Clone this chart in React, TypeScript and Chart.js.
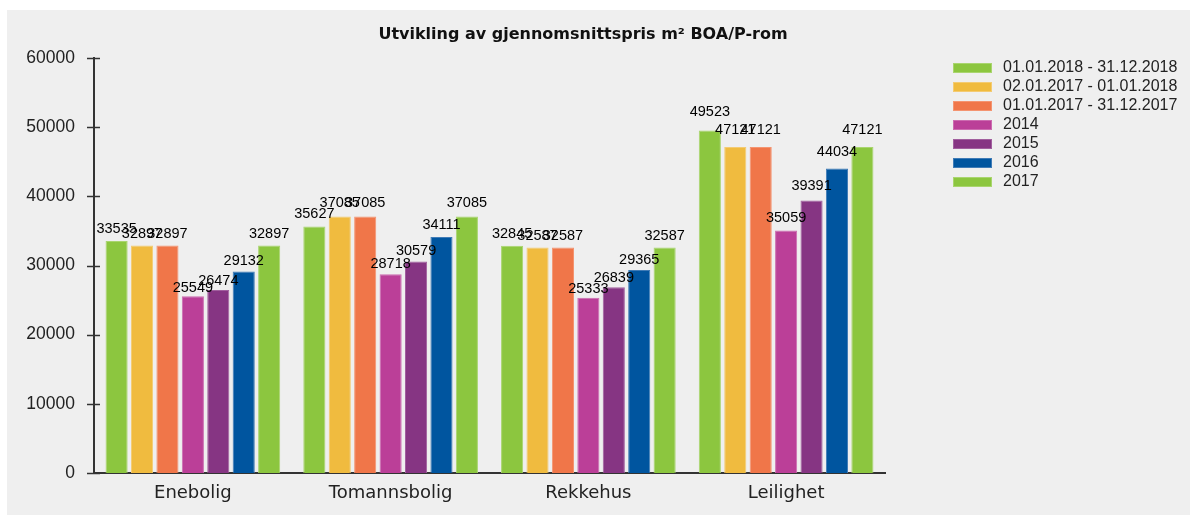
import React, { useEffect, useRef } from "react";
import { Chart, registerables } from "chart.js";

Chart.register(...registerables);

const titleText = "Utvikling av gjennomsnittspris m² BOA/P-rom";
const categories = ["Enebolig", "Tomannsbolig", "Rekkehus", "Leilighet"];
const seriesNames = [
  "01.01.2018 - 31.12.2018",
  "02.01.2017 - 01.01.2018",
  "01.01.2017 - 31.12.2017",
  "2014",
  "2015",
  "2016",
  "2017",
];
const s2018 = [33535, 35627, 32845, 49523];
const s2017to2018 = [32897, 37085, 32587, 47121];
const s2017full = [32897, 37085, 32587, 47121];
const s2014 = [25549, 28718, 25333, 35059];
const s2015 = [26474, 30579, 26839, 39391];
const s2016 = [29132, 34111, 29365, 44034];
const s2017 = [32897, 37085, 32587, 47121];
const seriesValues = [s2018, s2017to2018, s2017full, s2014, s2015, s2016, s2017];
const yTickValues = [0, 10000, 20000, 30000, 40000, 50000, 60000];

const seriesColors = ["#8cc63f", "#f0bb3f", "#f07649", "#bb3f98", "#863583", "#00559f", "#8cc63f"];
const seriesBorders = ["#a9d56e", "#f4cb72", "#f49470", "#cc6bb0", "#a15f9e", "#3f7bb6", "#a9d56e"];

const overlayPlugin = {
  id: "overlay",
  afterDraw(chart: any) {
    const ctx = chart.ctx as CanvasRenderingContext2D;
    const y = chart.scales.y;
    const area = chart.chartArea;
    ctx.save();
    // cross ticks on y axis
    ctx.strokeStyle = "#333";
    ctx.lineWidth = 1.5;
    yTickValues.forEach((v) => {
      const py = Math.round(y.getPixelForValue(v)) + 0.5;
      ctx.beginPath();
      ctx.moveTo(area.left - 7, py);
      ctx.lineTo(area.left + 6, py);
      ctx.stroke();
    });
    // title
    ctx.fillStyle = "#111";
    ctx.font = 'bold 16px "DejaVu Sans", Verdana, sans-serif';
    ctx.textAlign = "center";
    ctx.textBaseline = "middle";
    ctx.fillText(titleText, 583, 35);
    // legend
    ctx.font = '16px "Liberation Sans", Arial, sans-serif';
    ctx.textAlign = "left";
    chart.data.datasets.forEach((ds: any, i: number) => {
      const top = 63 + 19 * i;
      ctx.fillStyle = seriesColors[i];
      ctx.fillRect(953, top, 39, 10);
      ctx.strokeStyle = seriesBorders[i];
      ctx.lineWidth = 1;
      ctx.strokeRect(953.5, top + 0.5, 38, 9);
      ctx.fillStyle = "#222";
      ctx.fillText(ds.label, 1003, top + 5);
    });
    ctx.restore();
  },
  afterDatasetsDraw(chart: any) {
    const ctx = chart.ctx as CanvasRenderingContext2D;
    ctx.save();
    ctx.font = '14.5px "Liberation Sans", Arial, sans-serif';
    ctx.fillStyle = "#000";
    ctx.textAlign = "center";
    ctx.textBaseline = "alphabetic";
    chart.data.datasets.forEach((ds: any, i: number) => {
      const meta = chart.getDatasetMeta(i);
      meta.data.forEach((bar: any, j: number) => {
        const h = bar.base - bar.y;
        ctx.fillText(String(ds.data[j]), bar.x, bar.base + 6 - h * 1.06);
      });
    });
    ctx.restore();
  },
};

export default function App() {
  const ref = useRef<HTMLCanvasElement | null>(null);

  useEffect(() => {
    if (!ref.current) return;
    const chart = new Chart(ref.current, {
      type: "bar",
      data: {
        labels: categories,
        datasets: seriesNames.map((name, i) => ({
          label: name,
          data: seriesValues[i],
          backgroundColor: seriesColors[i],
          borderColor: seriesBorders[i],
          borderWidth: 1,
          categoryPercentage: 0.9,
          barPercentage: 0.87,
        })),
      },
      options: {
        responsive: false,
        animation: false,
        devicePixelRatio: 1,
        layout: { padding: { left: 0, top: 58, right: 305, bottom: 0 } },
        plugins: {
          legend: { display: false },
          title: { display: false },
          tooltip: { enabled: false },
        },
        scales: {
          x: {
            grid: { display: false, drawTicks: false },
            border: { display: true, color: "#333", width: 2 },
            ticks: {
              color: "#222",
              padding: 10,
              font: { family: '"DejaVu Sans", Verdana, sans-serif', size: 18 },
            },
            afterFit: (s: any) => {
              s.height = 42;
            },
          },
          y: {
            min: 0,
            max: 60000,
            grid: { display: false, drawTicks: false },
            border: { display: true, color: "#333", width: 2 },
            ticks: {
              stepSize: 10000,
              padding: 19,
              color: "#222",
              font: { family: '"Liberation Sans", Arial, sans-serif', size: 17.5 },
              callback: (v: any) => String(v),
            },
            afterFit: (s: any) => {
              s.width = 94;
            },
          },
        },
      },
      plugins: [overlayPlugin],
    });
    return () => chart.destroy();
  }, []);

  return (
    <div style={{ position: "fixed", left: 0, top: 0, width: 1190, height: 515, background: "#fff" }}>
      <div style={{ position: "absolute", left: 7, top: 10, width: 1183, height: 505, background: "#efefef" }} />
      <canvas ref={ref} width={1190} height={515} style={{ position: "absolute", left: 0, top: 0 }} />
    </div>
  );
}
